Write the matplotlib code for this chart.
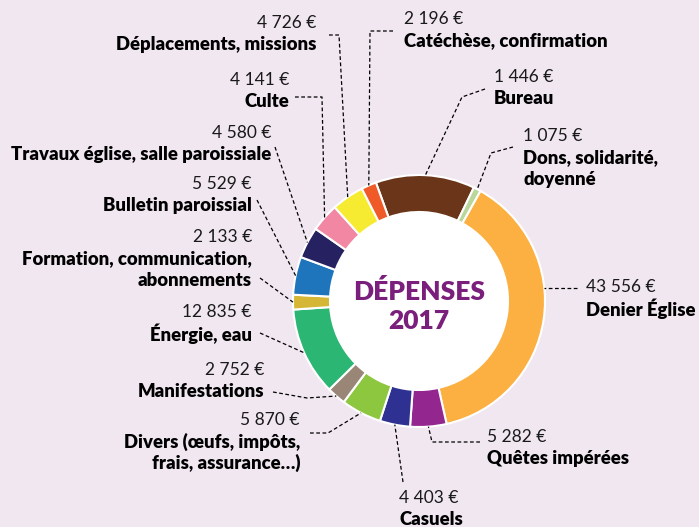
import numpy as np
import matplotlib
matplotlib.use("Agg")
import matplotlib.pyplot as plt
from matplotlib.patches import Circle

# données (sens horaire, en partant de "Bureau")
categories = ["Bureau", "Dons, solidarité,\ndoyenné", "Denier Église", "Quêtes impérées",
              "Casuels", "Divers (œufs, impôts,\nfrais, assurance…)", "Manifestations",
              "Énergie, eau", "Formation, communication,\nabonnements", "Bulletin paroissial",
              "Travaux église, salle paroissiale", "Culte", "Déplacements, missions",
              "Catéchèse, confirmation"]
values = [14446, 1075, 43556, 5282, 4403, 5870, 2752, 12835, 2133, 5529, 4580, 4141, 4726, 2196]
# montants tels qu'imprimés sur le document
amounts = ["1 446 €", "1 075 €", "43 556 €", "5 282 €", "4 403 €", "5 870 €", "2 752 €",
           "12 835 €", "2 133 €", "5 529 €", "4 580 €", "4 141 €", "4 726 €", "2 196 €"]
colors = ["#6B3519", "#BAD79B", "#FBB041", "#93278F", "#2E3191", "#8DC63F", "#9A8676",
          "#2BB673", "#D5B735", "#1F75BB", "#262161", "#F287A4", "#F6EB31", "#F05A28"]

W, H = 699, 527
BG = "#F1E7F1"
cx, cy = 419, 301          # centre de l'anneau (coord. image)
R_out, R_in = 126, 89

# mise en page des étiquettes : x, alignement, y du montant, points du trait (coord. image)
layout = [
    (494, "left", 77, [(485, 89), (462, 97)]),
    (523, "left", 136, [(513, 147), (491, 153)]),
    (586, "left", 287, [(577, 288)]),
    (487, "left", 437, [(480, 442), (432, 442)]),
    (399, "left", 498, [(403, 482)]),
    (300, "right", 420, [(310, 433), (328, 433)]),
    (264, "right", 370, [(273, 392), (307, 398)]),
    (252, "right", 312, [(260, 333)]),
    (252, "right", 237, [(260, 278)]),
    (252, "right", 184, [(257, 200)]),
    (271, "right", 133, [(275, 147)]),
    (289, "right", 80, [(295, 97), (322, 97)]),
    (316, "right", 23, [(329, 35), (339, 35)]),
    (404, "left", 19, [(393, 31), (370, 31)]),
]

plt.rcParams['font.family'] = ['Lato', 'DejaVu Sans']

fig = plt.figure(figsize=(W / 100, H / 100), dpi=100, facecolor=BG)
ax = fig.add_axes([0, 0, 1, 1])
ax.set_facecolor(BG)

Y = lambda y: H - y

ax.add_patch(Circle((cx, Y(cy)), R_in, color="white", zorder=0))
wedges, _ = ax.pie(values, colors=colors, radius=R_out, center=(cx, Y(cy)),
                   startangle=110, counterclock=False,
                   wedgeprops=dict(width=R_out - R_in, edgecolor="white", linewidth=1.5))

ax.set_xlim(0, W)
ax.set_ylim(0, H)
ax.set_aspect("equal")
ax.axis("off")

for w, name, amt, (x, ha, ya, pts) in zip(wedges, categories, amounts, layout):
    # point d'arrivée du trait sur l'anneau
    if name == "Denier Église":
        yy = pts[-1][1]
        end = (cx + np.sqrt(R_out ** 2 - (yy - cy) ** 2), yy)
    else:
        a = np.deg2rad((w.theta1 + w.theta2) / 2)
        end = (cx + R_out * np.cos(a), cy - R_out * np.sin(a))
    path = pts + [end]
    ax.plot([p[0] for p in path], [Y(p[1]) for p in path], color="black",
            linewidth=0.9, linestyle=(0, (3, 2)), zorder=1)

    ax.text(x, Y(ya), amt, ha=ha, va="center", fontsize=12.5, fontweight="normal",
            color="#1a1a1a")
    for i, line in enumerate(name.split("\n")):
        ax.text(x, Y(ya + 21.5 * (i + 1)), line, ha=ha, va="center", fontsize=13.3,
                fontweight="heavy", color="black")

ax.text(cx, Y(291), "DÉPENSES", ha="center", va="center", fontsize=19,
        fontweight="heavy", color="#7B1F7C")
ax.text(cx, Y(321), "2017", ha="center", va="center", fontsize=19,
        fontweight="heavy", color="#7B1F7C")

fig.savefig("out.png", dpi=100, facecolor=BG)
